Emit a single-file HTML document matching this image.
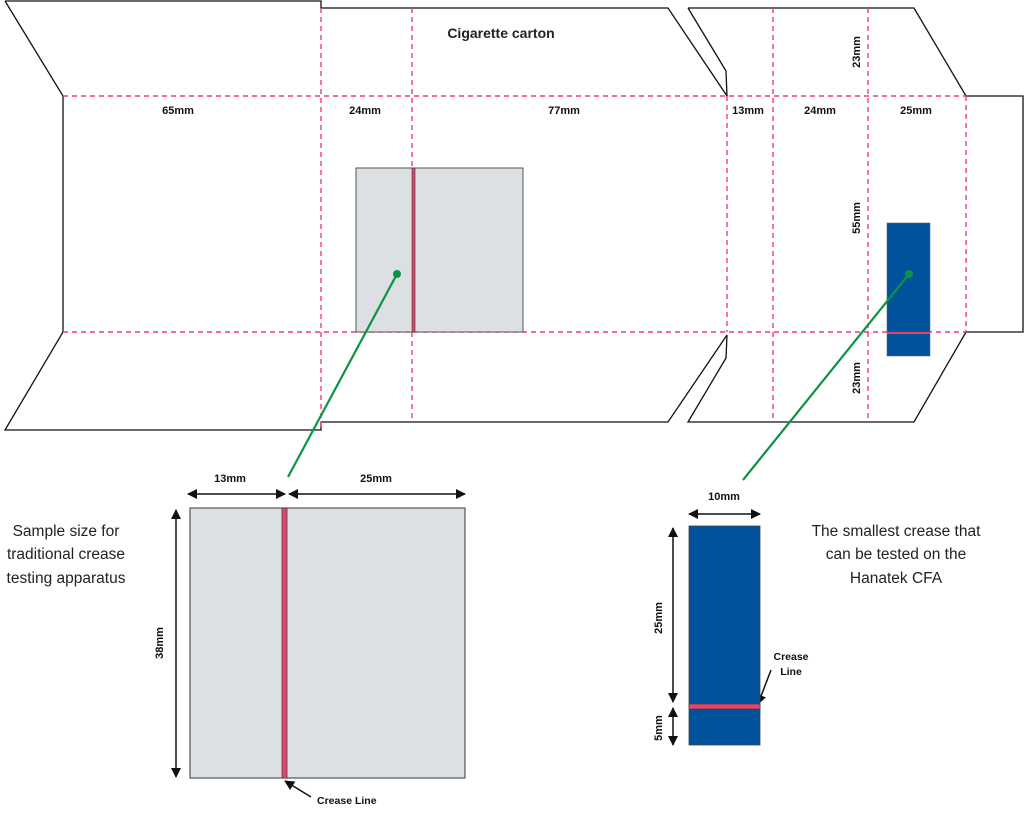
<!DOCTYPE html>
<html><head><meta charset="utf-8"><style>
html,body{margin:0;padding:0;background:#fff;}
svg{display:block;}
text{font-family:"Liberation Sans",sans-serif;fill:#111;}
.b{font-weight:bold;font-size:11px;}
.t{font-size:15.5px;fill:#222;}
</style></head><body>
<svg width="1024" height="826" viewBox="0 0 1024 826" xmlns="http://www.w3.org/2000/svg">
<defs>
<marker id="ah" viewBox="0 0 10 10" refX="9" refY="5" markerUnits="userSpaceOnUse" markerWidth="11" markerHeight="10" orient="auto-start-reverse"><path d="M0,0 L10,5 L0,10 z" fill="#111"/></marker>
</defs>
<g fill="none" stroke="#111" stroke-width="1.3">
<path d="M5,1 L321,1 L321,8 L668,8 L727,96 L727,97"/>
<path d="M5,1 L63,96 L63,332 L5,430 L321,430 L321,422 L668,422 L727,335"/>
<path d="M688,8 L914,8 L966,96 L1023,96 L1023,332 L966,332 L914,422 L688,422 L726,358 L727,335"/>
<path d="M688,8 L726,71 L727,96"/>
</g>
<g stroke="#ee3d7a" stroke-width="1.4" stroke-dasharray="5,4" fill="none">
<line x1="63" y1="96" x2="966" y2="96"/>
<line x1="63" y1="332" x2="966" y2="332"/>
<line x1="321" y1="8" x2="321" y2="430"/>
<line x1="412" y1="8" x2="412" y2="422"/>
<line x1="773" y1="8" x2="773" y2="422"/>
<line x1="868" y1="8" x2="868" y2="422"/>
<line x1="727" y1="96" x2="727" y2="332"/>
<line x1="966" y1="96" x2="966" y2="332"/>
</g>
<rect x="356" y="168" width="167" height="164" fill="#dde0e3" stroke="#555" stroke-width="1"/>
<rect x="412" y="168" width="3" height="164" fill="#e0456f" stroke="#333" stroke-width="0.6"/>
<rect x="887" y="223" width="43" height="133" fill="#00529b" stroke="#666" stroke-width="0.6"/>
<line x1="887" y1="333" x2="930" y2="333" stroke="#e0456f" stroke-width="2"/>
<g stroke="#0a9444" stroke-width="2.2">
<line x1="397" y1="274" x2="288" y2="477"/>
<line x1="909" y1="274" x2="743" y2="480"/>
</g>
<circle cx="397" cy="274" r="4" fill="#0a9444"/>
<circle cx="909" cy="274" r="4" fill="#0a9444"/>
<text x="501" y="38" text-anchor="middle" style="font-size:14px;font-weight:bold;fill:#222">Cigarette carton</text>
<text class="b" x="178" y="114" text-anchor="middle">65mm</text>
<text class="b" x="365" y="114" text-anchor="middle">24mm</text>
<text class="b" x="564" y="114" text-anchor="middle">77mm</text>
<text class="b" x="748" y="114" text-anchor="middle">13mm</text>
<text class="b" x="820" y="114" text-anchor="middle">24mm</text>
<text class="b" x="916" y="114" text-anchor="middle">25mm</text>
<text class="b" transform="translate(860,52) rotate(-90)" text-anchor="middle">23mm</text>
<text class="b" transform="translate(860,218) rotate(-90)" text-anchor="middle">55mm</text>
<text class="b" transform="translate(860,378) rotate(-90)" text-anchor="middle">23mm</text>
<rect x="190" y="508" width="275" height="270" fill="#dde0e3" stroke="#555" stroke-width="1.2"/>
<rect x="282" y="508" width="5" height="270" fill="#e0456f" stroke="#444" stroke-width="0.8"/>
<g stroke="#111" stroke-width="1.5" marker-start="url(#ah)" marker-end="url(#ah)">
<line x1="188" y1="494" x2="285" y2="494"/>
<line x1="289" y1="494" x2="465" y2="494"/>
<line x1="176" y1="510" x2="176" y2="777"/>
<line x1="673" y1="528" x2="673" y2="702"/>
<line x1="673" y1="708" x2="673" y2="745"/>
<line x1="689" y1="514" x2="760" y2="514"/>
</g>
<g stroke="#111" stroke-width="1.5" marker-end="url(#ah)">
<line x1="311" y1="797" x2="285" y2="781"/>
<line x1="771" y1="670" x2="758" y2="704"/>
</g>
<text class="b" x="230" y="482" text-anchor="middle">13mm</text>
<text class="b" x="376" y="482" text-anchor="middle">25mm</text>
<text class="b" transform="translate(163,643) rotate(-90)" text-anchor="middle">38mm</text>
<text class="b" x="317" y="804" style="font-size:10.5px">Crease Line</text>
<text class="t" x="66" y="536" text-anchor="middle">Sample size for</text>
<text class="t" x="66" y="559" text-anchor="middle">traditional crease</text>
<text class="t" x="66" y="583" text-anchor="middle">testing apparatus</text>
<rect x="689" y="526" width="71" height="219" fill="#00529b" stroke="#444" stroke-width="0.8"/>
<rect x="689" y="704" width="71" height="5" fill="#e0456f" stroke="#333" stroke-width="0.5"/>
<text class="b" x="724" y="500" text-anchor="middle">10mm</text>
<text class="b" transform="translate(662,618) rotate(-90)" text-anchor="middle">25mm</text>
<text class="b" transform="translate(662,728) rotate(-90)" text-anchor="middle">5mm</text>
<text class="b" x="791" y="660" text-anchor="middle" style="font-size:10.5px">Crease</text>
<text class="b" x="791" y="675" text-anchor="middle" style="font-size:10.5px">Line</text>
<text class="t" x="896" y="536" text-anchor="middle">The smallest crease that</text>
<text class="t" x="896" y="559" text-anchor="middle">can be tested on the</text>
<text class="t" x="896" y="583" text-anchor="middle">Hanatek CFA</text>
</svg>
</body></html>
